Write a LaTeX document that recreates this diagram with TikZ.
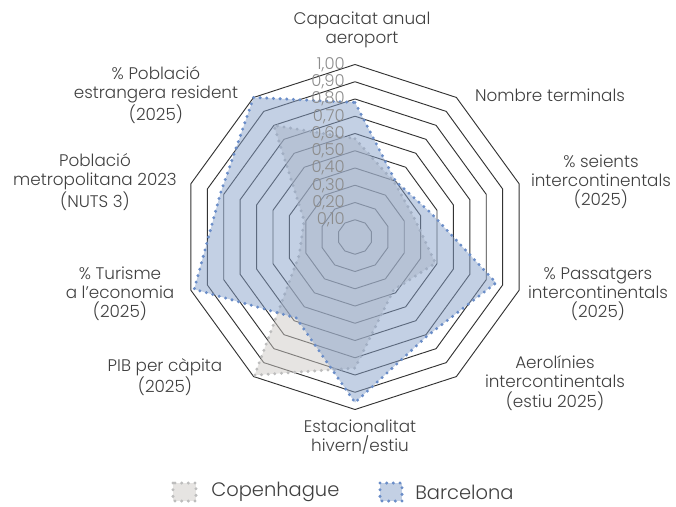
\documentclass[tikz,border=0pt]{standalone}
\usepackage{fontspec}
\setmainfont{Poppins}[UprightFont=* Light]
\definecolor{Ink}{HTML}{404040}
\definecolor{TickGray}{HTML}{8C8C8C}
\definecolor{Ring}{HTML}{333333}
\definecolor{CphFill}{HTML}{CDC9C5}
\definecolor{CphDot}{HTML}{BDBDBD}
\definecolor{BcnFill}{HTML}{87A1C9}
\definecolor{BcnDot}{HTML}{6A8DC8}
\usepackage{tikz}
\tikzset{
  every picture/.style={font={\fontsize{12.6}{14.4}\selectfont}, x=0.75pt, y=-0.75pt},
  ring/.style={draw=Ring, line width=0.7pt},
  ticklabel/.style={text=TickGray, font={\fontsize{12.3}{13}\selectfont}, anchor=east, inner sep=0pt},
  axislabel/.style={text=Ink, align=center, inner sep=0pt},
  keylabel/.style={text=Ink, anchor=west, inner sep=0pt, font={\fontsize{14.6}{16}\selectfont}},
  dotborder/.style={line width=2.5pt, line cap=round, dash pattern=on 0pt off 5pt},
  cphseries/.style={fill=CphFill, fill opacity=0.5, draw=CphDot, dotborder},
  bcnseries/.style={fill=BcnFill, fill opacity=0.5, draw=BcnDot, dotborder}}

\begin{document}
\begin{tikzpicture}
    \useasboundingbox (0,0) rectangle (676,507);

    \begin{scope}[shift={(355,237)}]
      % grid rings
      \foreach \r in {1,...,10} {
        \draw[ring] (-90:17.25*\r) \foreach \k in {1,...,9} { -- (-90+36*\k:17.25*\r) } -- cycle;
      }

      % series points
      \foreach \v [count=\i from 0] in {0.57, 0.39, 0.36, 0.49, 0.38, 0.76, 0.99, 0.34, 0.31, 0.80} {
        \coordinate (cph\i) at (-90+36*\i:172.5*\v);
      }
      \foreach \v [count=\i from 0] in {0.78, 0.40, 0.46, 0.86, 0.71, 0.96, 0.58, 0.98, 0.82, 1.00} {
        \coordinate (bcn\i) at (-90+36*\i:172.5*\v);
      }

      \path[cphseries] (cph0) -- (cph1) -- (cph2) -- (cph3) -- (cph4) -- (cph5)
        -- (cph6) -- (cph7) -- (cph8) -- (cph9) -- cycle;
      \path[bcnseries] (bcn0) -- (bcn1) -- (bcn2) -- (bcn3) -- (bcn4) -- (bcn5)
        -- (bcn6) -- (bcn7) -- (bcn8) -- (bcn9) -- cycle;

      % scale
      \foreach \t [count=\r] in {{0,10}, {0,20}, {0,30}, {0,40}, {0,50}, {0,60}, {0,70}, {0,80}, {0,90}, {1,00}} {
        \node[ticklabel] (tick\r) at (-10, -17.25*\r) {\t};
      }
    \end{scope}

    % axis labels
    \node[axislabel] (capacitat) at (362,30) {Capacitat anual\\aeroport};
    \node[axislabel] (terminals) at (550,95) {Nombre terminals};
    \node[axislabel] (seients) at (601,182) {\% seients\\intercontinentals\\(2025)};
    \node[axislabel] (passatgers) at (598,294) {\% Passatgers\\intercontinentals\\(2025)};
    \node[axislabel] (aerolinies) at (555,383) {Aerolínies\\intercontinentals\\(estiu 2025)};
    \node[axislabel] (estacionalitat) at (360,437) {Estacionalitat\\hivern/estiu};
    \node[axislabel] (pib) at (165,377) {PIB per càpita\\(2025)};
    \node[axislabel] (turisme) at (120,294) {\% Turisme\\a l’economia\\(2025)};
    \node[axislabel] (poblacio) at (95,182) {Població\\metropolitana 2023\\(NUTS 3)};
    \node[axislabel] (estrangera) at (156,95) {\% Població\\estrangera resident\\(2025)};

    % legend
    \path[cphseries] (173,483) rectangle (196,501);
    \node[keylabel] (cphkey) at (211,492) {Copenhague};
    \path[bcnseries] (380,483) rectangle (402,501);
    \node[keylabel] (bcnkey) at (415,492) {Barcelona};
\end{tikzpicture}
\end{document}
